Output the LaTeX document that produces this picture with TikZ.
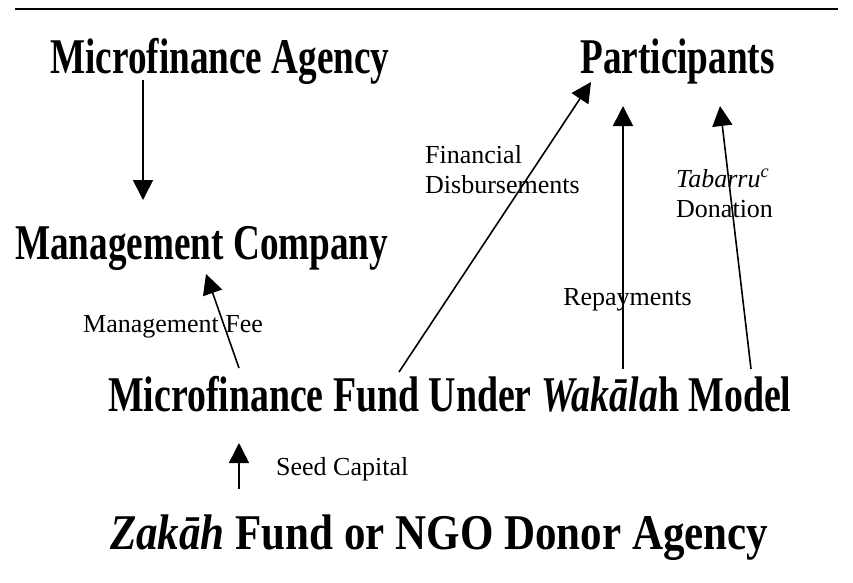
\documentclass[tikz,border=0pt]{standalone}
\usepackage{fontspec}
\setmainfont{Liberation Serif}
\newfontfamily\headfont[FakeStretch=0.744]{Liberation Serif}
\newfontfamily\fundfont[FakeStretch=0.756]{Liberation Serif}
\newfontfamily\widehead[FakeStretch=0.86]{Liberation Serif}
\usetikzlibrary{arrows.meta}

\begin{document}
\begin{tikzpicture}[x=1pt,y=-1pt,
    every node/.style={inner sep=0pt},
    head/.style={anchor=base west,font=\headfont\bfseries\fontsize{50}{56}\selectfont},
    lab/.style={anchor=base west,align=left,font=\fontsize{26}{30}\selectfont},
    flow/.style={-{Triangle[length=20pt,width=20pt]},line width=1.6pt}]
  \useasboundingbox (0,0) rectangle (853,582);
  \draw[line width=2pt] (15,9) -- (838,9);
  % boxes
  \node[head] (agency) at (50,73) {Microfinance Agency};
  \node[head,anchor=base east] (part) at (775,73) {Participants};
  \node[head] (company) at (15,259) {Management Company};
  \node[head,font=\fundfont\bfseries\fontsize{50}{56}\selectfont] (fund) at (108,411) {Microfinance Fund Under \textit{Wak\={a}la}h Model};
  \node[head,font=\widehead\bfseries\fontsize{50}{56}\selectfont] (zakah) at (110,549) {\textit{Zak\={a}h} Fund or NGO Donor Agency};
  % labels
  \node[lab] (disb) at (425,193) {Financial\\Disbursements};
  \node[lab] (tabarru) at (676,217) {\textit{Tabarru}\textsuperscript{\textit{c}}\\Donation};
  \node[lab,anchor=base east] (repay) at (692,305) {Repayments};
  \node[lab] (fee) at (83,332) {Management Fee};
  \node[lab] (seed) at (276,475) {Seed Capital};
  % arrow ends
  \coordinate (agS) at (143,80);   \coordinate (coN) at (143,200);
  \coordinate (feS) at (239,368);  \coordinate (feN) at (206,274);
  \coordinate (diS) at (399,372);  \coordinate (diN) at (591,82);
  \coordinate (reS) at (623,369);  \coordinate (reN) at (623,106);
  \coordinate (taS) at (751,369);  \coordinate (taN) at (720,106);
  \coordinate (seS) at (239,489);  \coordinate (seN) at (239,443);
  \draw[flow] (agS) -- (coN);
  \draw[flow] (feS) -- (feN);
  \draw[flow] (diS) -- (diN);
  \draw[flow] (reS) -- (reN);
  \draw[flow] (taS) -- (taN);
  \draw[flow] (seS) -- (seN);
\end{tikzpicture}
\end{document}
